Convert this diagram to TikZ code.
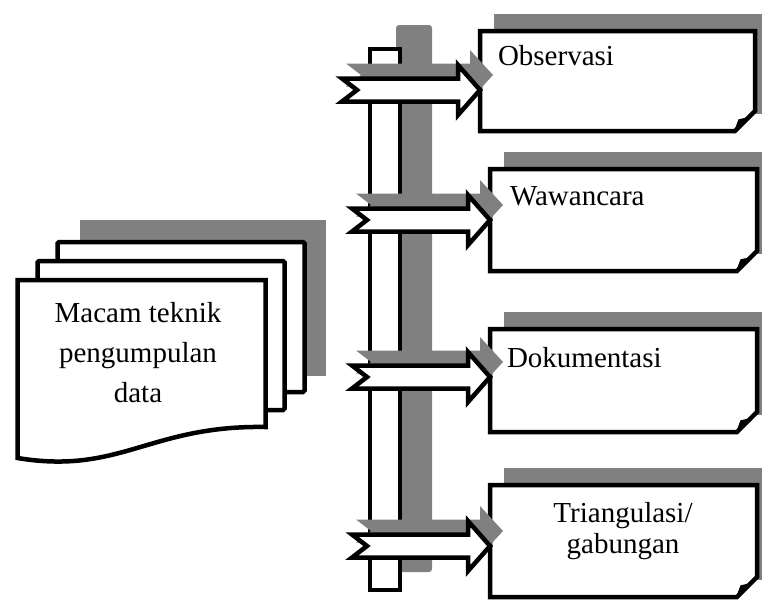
\documentclass[tikz,border=0pt]{standalone}
\usepackage{fontspec}
\setmainfont{Liberation Serif}
\usetikzlibrary{calc}
\definecolor{shadowgray}{RGB}{128,128,128}
\tikzset{
  outline/.style={draw=black, line width=4.5pt, fill=white, line join=miter},
  graypart/.style={fill=shadowgray, draw=none},
  lbl/.style={font=\fontsize{29}{40}\selectfont, inner sep=0pt, outer sep=0pt},
  boxarea/.style={rectangle, inner sep=0pt, outer sep=0pt, minimum width=#1},
}
\newcommand\foldbox[1]{%
  \path[graypart] ($(#1.north west)+(14,-17)$) rectangle ($(#1.south east)+(40,-17)$);
  \draw[outline] (#1.north west) -- (#1.north east) -- ($(#1.south east)+(0,-20)$)
     -- ($(#1.south east)+(-20,0)$) -- (#1.south west) -- cycle;
  \draw[line width=1.5pt, line join=round, fill=black] ($(#1.south east)+(-20,0)$)
     -- ($(#1.south east)+(-16,-11)$) -- ($(#1.south east)+(-7,-13)$);
}
\newcommand\blockarrow[2]{%
  \path (#1) coordinate (T) (#2.west |- #1) coordinate (P);
  \path[graypart] ($(T)+(4,-26.5)$) -- ($(P)+(-10,-26.5)$) -- ($(P)+(-10,-40)$)
     -- ($(P)+(13,-15)$) -- ($(P)+(-10,10)$) -- ($(P)+(-10,-3.5)$)
     -- ($(T)+(4,-3.5)$) -- ($(T)+(19,-15)$) -- cycle;
  \draw[outline] ($(T)+(0,-11.5)$) -- ($(P)+(-22,-11.5)$) -- ($(P)+(-22,-25)$)
     -- (P) -- ($(P)+(-22,25)$) -- ($(P)+(-22,11.5)$) -- ($(T)+(0,11.5)$)
     -- ($(T)+(15,0)$) -- cycle;
}
\begin{document}
\begin{tikzpicture}[x=1pt,y=-1pt]
\clip (0,0) rectangle (762,600);
% source document stack
\path[graypart] (80,220) rectangle (326,376);
\draw[outline, rounded corners=1.5pt] (57.5,242) rectangle (304.5,392);
\draw[outline, rounded corners=1.5pt] (37.5,261) rectangle (284.5,410);
\draw[outline] (17.5,280) -- (265.5,280) -- (265.5,427)
   .. controls (150,425) and (120,475) .. (17.5,458) -- cycle;
\node[lbl, align=center, anchor=base] (src) at (138,402) {Macam teknik\\pengumpulan\\data};
% boxes
\node[boxarea=275pt, minimum height=100pt] (b1) at (617.5,81) {};
\node[boxarea=267pt, minimum height=102pt] (b2) at (623.5,220) {};
\node[boxarea=267pt, minimum height=103pt] (b3) at (623.5,380.5) {};
\node[boxarea=267pt, minimum height=112pt] (b4) at (623.5,541) {};
\foldbox{b1}\foldbox{b2}\foldbox{b3}\foldbox{b4}
\node[lbl, anchor=base west] (t1) at (498,65) {Observasi};
\node[lbl, anchor=base west] (t2) at (510,205) {Wawancara};
\node[lbl, anchor=base west] (t3) at (507,367) {Dokumentasi};
\node[lbl, anchor=base, align=center, font=\fontsize{29}{31}\selectfont] (t4) at (623,553) {Triangulasi/\\gabungan};
% vertical bar
\path[graypart, rounded corners=3pt] (396,25) rectangle (432,572);
\draw[outline] (370,49) rectangle (400,590);
% arrows
\coordinate (a1) at (342,90);
\coordinate (a2) at (352,220);
\coordinate (a3) at (352,377);
\coordinate (a4) at (352,546);
\blockarrow{a1}{b1}
\blockarrow{a2}{b2}
\blockarrow{a3}{b3}
\blockarrow{a4}{b4}
\end{tikzpicture}
\end{document}
